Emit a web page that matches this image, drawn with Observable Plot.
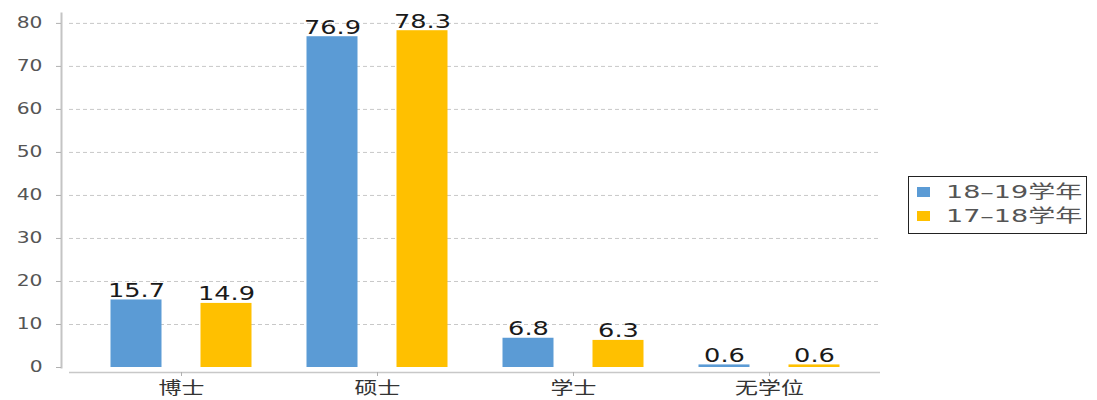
<!DOCTYPE html>
<html><head><meta charset="utf-8">
<script src="https://cdn.jsdelivr.net/npm/d3@7"></script>
<script src="https://cdn.jsdelivr.net/npm/@observablehq/plot@0.6"></script>
<style>
body{margin:0;background:#fff;}
#wrap{position:relative;width:1097px;height:400px;overflow:hidden;}
g[aria-label="y-axis tick"]{stroke:#b0b0b0;}
g[aria-label="y-axis tick label"]{fill:#555;}
g[aria-label="x-axis tick"]{stroke:#b0b0b0;}
g[aria-label="x-axis tick label"]{fill:#333;}
.legend{position:absolute;left:908px;top:176px;width:179px;height:58px;border:1.5px solid #222;box-sizing:border-box;background:#fff;
  font-family:"DejaVu Sans","Noto Sans CJK SC",sans-serif;font-size:18px;color:#555;}
.legend .sw{position:absolute;left:8px;width:13px;height:10px;}
.legend .lbl{position:absolute;left:37px;white-space:nowrap;transform:scaleX(1.5);transform-origin:left center;line-height:20px;}
</style></head>
<body><div id="wrap"></div>
<script>
const categories = ["博士", "硕士", "学士", "无学位"];
const seriesNames = ["18–19学年", "17–18学年"];
const values1819 = [15.7, 76.9, 6.8, 0.6];
const values1718 = [14.9, 78.3, 6.3, 0.6];
const yTicks = [0, 10, 20, 30, 40, 50, 60, 70, 80];
const colors = ["#5B9BD5", "#FFC000"];

const rows1819 = categories.map((c, i) => ({category: c, series: seriesNames[0], value: values1819[i]}));
const rows1718 = categories.map((c, i) => ({category: c, series: seriesNames[1], value: values1718[i]}));

const font = '"DejaVu Sans","Noto Sans CJK SC",sans-serif';

const chart = Plot.plot({
  width: 1097, height: 400,
  marginLeft: 61, marginRight: 217, marginTop: 13, marginBottom: 33,
  style: {fontFamily: font, background: "#fff", overflow: "visible"},
  x: {domain: categories, range: [69, 880], paddingInner: 0, paddingOuter: 0.06, label: null},
  y: {domain: [0, 82.3], label: null},
  marks: [
    Plot.ruleY(yTicks.filter(d => d > 0), {stroke: "#c8c8c8", strokeDasharray: "4,3", insetLeft: 8}),
    Plot.frame({anchor: "left", stroke: "#c4c4c4", strokeWidth: 2}),
    Plot.ruleY([0], {dy: 5, insetLeft: 8, stroke: "#c8c8c8", strokeWidth: 1.5}),
    Plot.axisY({ticks: yTicks, tickSize: 5, tickPadding: 14, fontSize: 15, label: null}),
    Plot.axisX({tickSize: 4, dy: 5, tickPadding: 5, fontSize: 17, label: null}),
    Plot.barY(rows1819, {x: "category", y: "value", fill: colors[0], insetLeft: 27.5, insetRight: 117.5}),
    Plot.barY(rows1718, {x: "category", y: "value", fill: colors[1], insetLeft: 117.5, insetRight: 27.5}),
    Plot.text(rows1819, {x: "category", y: "value", text: d => d.value.toFixed(1), dx: -45, dy: -3, lineAnchor: "bottom", fontSize: 19, fill: "#1a1a1a"}),
    Plot.text(rows1718, {x: "category", y: "value", text: d => d.value.toFixed(1), dx: 45, dy: -3, lineAnchor: "bottom", fontSize: 19, fill: "#1a1a1a"})
  ]
});

const wrap = document.getElementById("wrap");
wrap.append(chart);
const K = 1.35;
chart.querySelectorAll("text").forEach(t => {
  const w = t.getComputedTextLength();
  if (w > 0) { t.setAttribute("textLength", w * K); t.setAttribute("lengthAdjust", "spacingAndGlyphs"); }
});

const legend = document.createElement("div");
legend.className = "legend";
seriesNames.forEach((name, i) => {
  const sw = document.createElement("div");
  sw.className = "sw";
  sw.style.background = colors[i];
  sw.style.top = (i === 0 ? 10 : 34) + "px";
  legend.append(sw);
  const lbl = document.createElement("div");
  lbl.className = "lbl";
  lbl.textContent = name;
  lbl.style.top = (i === 0 ? 5 : 29) + "px";
  legend.append(lbl);
});
wrap.append(legend);
</script></body></html>
